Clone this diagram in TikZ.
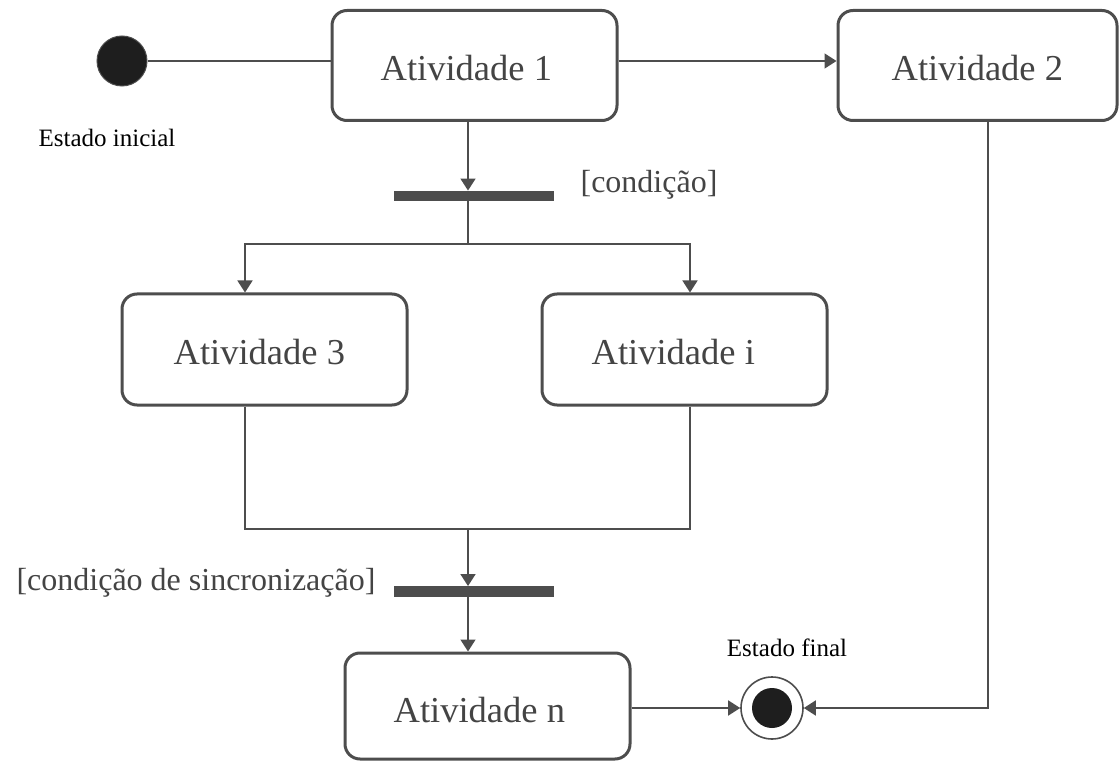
\documentclass[tikz,border=0pt]{standalone}
\usepackage{fontspec}
\setmainfont{Liberation Serif}
\usetikzlibrary{arrows.meta}
\definecolor{linec}{HTML}{4D4D4D}
\definecolor{textc}{HTML}{444444}
\definecolor{dotc}{HTML}{1E1E1E}
\begin{document}
\begin{tikzpicture}[x=1pt,y=-1pt,
  activity/.style={draw=linec, line width=3pt, rounded corners=15pt, inner sep=0pt},
  acttext/.style={anchor=base west, text=textc, inner sep=0pt,
    font=\fontsize{36.5}{40}\selectfont, yshift=-15pt},
  bar/.style={fill=linec, draw=none, minimum width=160pt, minimum height=10.5pt, inner sep=0pt},
  flow/.style={draw=linec, line width=1.6pt},
  arr/.style={flow, -{Triangle[length=12pt,width=15pt]}},
  lbl/.style={text=textc, inner sep=0pt},
  small/.style={lbl, font=\fontsize{25}{28}\selectfont, text=black},
  cond/.style={lbl, font=\fontsize{32}{36}\selectfont}]
\useasboundingbox (0,0) rectangle (1120,762);

% activity boxes
\node[activity, minimum width=285pt, minimum height=110pt] (a1) at (474.5,65.5) {};
\node[activity, minimum width=279pt, minimum height=110pt] (a2) at (977.5,65.5) {};
\node[activity, minimum width=285pt, minimum height=111pt] (a3) at (264.5,349.5) {};
\node[activity, minimum width=285pt, minimum height=111pt] (ai) at (684.5,349.5) {};
\node[activity, minimum width=285pt, minimum height=106pt] (an) at (487.5,706) {};

% activity names
\node[acttext, xshift=50pt] (a1t) at (a1.west) {Atividade 1};
\node[acttext, xshift=55pt] (a2t) at (a2.west) {Atividade 2};
\node[acttext, xshift=53pt] (a3t) at (a3.west) {Atividade 3};
\node[acttext, xshift=51pt] (ait) at (ai.west) {Atividade i};
\node[acttext, xshift=50pt, yshift=-1pt] (ant) at (an.west) {Atividade n};

% initial and final states
\node[circle, fill=dotc, draw=linec, line width=1pt, minimum size=50pt, inner sep=0pt] (ini) at (122,61) {};
\node[circle, draw=linec, line width=1.6pt, fill=white, minimum size=62pt, inner sep=0pt] (fin) at (772,708) {};
\node[circle, fill=dotc, minimum size=40pt, inner sep=0pt] (fincore) at (fin.center) {};

% fork and join bars
\node[bar] (fork) at (474,196) {};
\node[bar] (join) at (474,591.5) {};

% routing points
\coordinate (spine) at (468,0);
\coordinate (splitY) at (0,244);
\coordinate (mergeY) at (0,529);
\coordinate (lx) at (245,0);
\coordinate (rx) at (690,0);
\coordinate (a2x) at (988,0);

% labels
\node[small] (lini) at (107,138) {Estado inicial};
\node[small] (lfin) at (787,648) {Estado final};
\node[cond] (lcond) at (649,185) {[condição]};
\node[cond] (lsync) at (196,583) {[condição de sincronização]};

% connectors
\draw[flow] (ini.east) -- (ini.east -| a1.west);
\draw[arr] (a1.east |- ini) -- (a2.west |- ini);
\draw[arr] (a1.south -| spine) -- (fork.north -| spine);
\draw[flow] (fork.south -| spine) -- (spine |- splitY);
\draw[arr] (spine |- splitY) -| (a3.north -| lx);
\draw[arr] (spine |- splitY) -| (ai.north -| rx);
\draw[flow] (a3.south -| lx) |- (spine |- mergeY);
\draw[flow] (ai.south -| rx) |- (spine |- mergeY);
\draw[arr] (spine |- mergeY) -- (join.north -| spine);
\draw[arr] (join.south -| spine) -- (an.north -| spine);
\draw[arr] (an.east |- fin) -- (fin.west);
\draw[arr] (a2.south -| a2x) |- (fin.east);
\end{tikzpicture}
\end{document}
